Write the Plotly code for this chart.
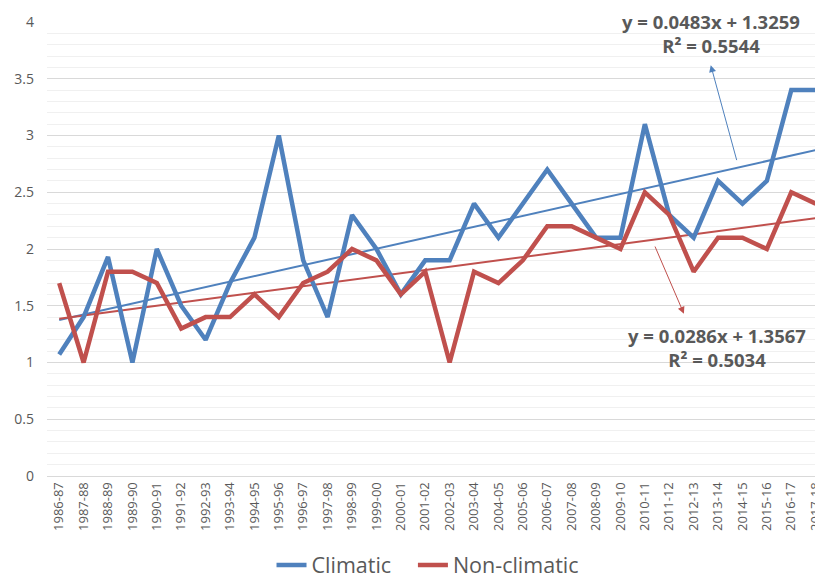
import plotly.graph_objects as go

seasons = ["1986-87","1987-88","1988-89","1989-90","1990-91","1991-92","1992-93","1993-94",
           "1994-95","1995-96","1996-97","1997-98","1998-99","1999-00","2000-01","2001-02",
           "2002-03","2003-04","2004-05","2005-06","2006-07","2007-08","2008-09","2009-10",
           "2010-11","2011-12","2012-13","2013-14","2014-15","2015-16","2016-17","2017-18"]

climatic = [1.07, 1.4, 1.93, 1.0, 2.0, 1.5, 1.2, 1.7,
            2.1, 3.0, 1.9, 1.4, 2.3, 2.0, 1.6, 1.9,
            1.9, 2.4, 2.1, 2.4, 2.7, 2.4, 2.1, 2.1,
            3.1, 2.3, 2.1, 2.6, 2.4, 2.6, 3.4, 3.4]

non_climatic = [1.7, 1.0, 1.8, 1.8, 1.7, 1.3, 1.4, 1.4,
                1.6, 1.4, 1.7, 1.8, 2.0, 1.9, 1.6, 1.8,
                1.0, 1.8, 1.7, 1.9, 2.2, 2.2, 2.1, 2.0,
                2.5, 2.3, 1.8, 2.1, 2.1, 2.0, 2.5, 2.4]

series_names = ["Climatic", "Non-climatic"]

# Trend line coefficients as printed on the chart (x = 1..n)
clim_slope, clim_intercept, clim_r2 = 0.0483, 1.3259, 0.5544
non_slope, non_intercept, non_r2 = 0.0286, 1.3567, 0.5034

BLUE = "#4F81BD"
RED = "#C0504D"
GRAY = "#595959"

idx = list(range(len(seasons)))
clim_trend = [clim_slope * (i + 1) + clim_intercept for i in idx]
non_trend = [non_slope * (i + 1) + non_intercept for i in idx]

fig = go.Figure()
fig.add_trace(go.Scatter(x=idx, y=clim_trend, mode="lines",
                         line=dict(color=BLUE, width=2), showlegend=False, hoverinfo="skip"))
fig.add_trace(go.Scatter(x=idx, y=non_trend, mode="lines",
                         line=dict(color=RED, width=2), showlegend=False, hoverinfo="skip"))
fig.add_trace(go.Scatter(x=idx, y=climatic, mode="lines",
                         name=series_names[0] + "\u00a0\u00a0\u00a0",
                         line=dict(color=BLUE, width=4.5)))
fig.add_trace(go.Scatter(x=idx, y=non_climatic, mode="lines", name=series_names[1],
                         line=dict(color=RED, width=4.5)))

# arrows
fig.add_annotation(x=26.7, y=3.62, ax=27.78, ay=2.77, axref="x", ayref="y",
                   text="", showarrow=True, arrowhead=2, arrowsize=1.4,
                   arrowwidth=1, arrowcolor=BLUE)
fig.add_annotation(x=25.6, y=1.43, ax=24.39, ay=2.035, axref="x", ayref="y",
                   text="", showarrow=True, arrowhead=2, arrowsize=1.4,
                   arrowwidth=1, arrowcolor=RED)

# equation labels
fig.add_annotation(x=26.72, y=3.90, xref="x", yref="y", showarrow=False,
                   text=f"<b>y = {clim_slope:.4f}x + {clim_intercept:.4f}</b><br><b>R² = {clim_r2:.4f}</b>",
                   font=dict(family="Open Sans", size=18.5, color=GRAY), align="center")
fig.add_annotation(x=26.96, y=1.13, xref="x", yref="y", showarrow=False,
                   text=f"<b>y = {non_slope:.4f}x + {non_intercept:.4f}</b><br><b>R² = {non_r2:.4f}</b>",
                   font=dict(family="Open Sans", size=18.5, color=GRAY), align="center")

# page has an 8px body margin, so the figure is sized to the visible area
fig.update_layout(
    width=815, height=572,
    margin=dict(l=39, r=0, t=14, b=104, autoexpand=False),
    plot_bgcolor="white", paper_bgcolor="white",
    font=dict(family="Open Sans", color=GRAY),
    legend=dict(orientation="h", x=0.491, xanchor="center", y=-0.196, yanchor="middle",
                font=dict(size=21.5, color=GRAY)),
    xaxis=dict(range=[-0.5, 31.3], tickmode="array", tickvals=idx, ticktext=seasons,
               tickangle=-90, tickfont=dict(size=13, color=GRAY), showgrid=False,
               automargin=False, ticklabeloverflow="allow",
               zeroline=False, showline=True, linecolor="#D9D9D9", ticks=""),
    yaxis=dict(range=[0, 4], dtick=0.5, tickfont=dict(size=14, color=GRAY),
               showgrid=True, gridcolor="#D9D9D9", zeroline=False, ticks="",
               ticklabelstandoff=12, automargin=False,
               minor=dict(dtick=0.1, showgrid=True, gridcolor="#F0F0F0", gridwidth=1)),
)

fig.write_html("out.html")
